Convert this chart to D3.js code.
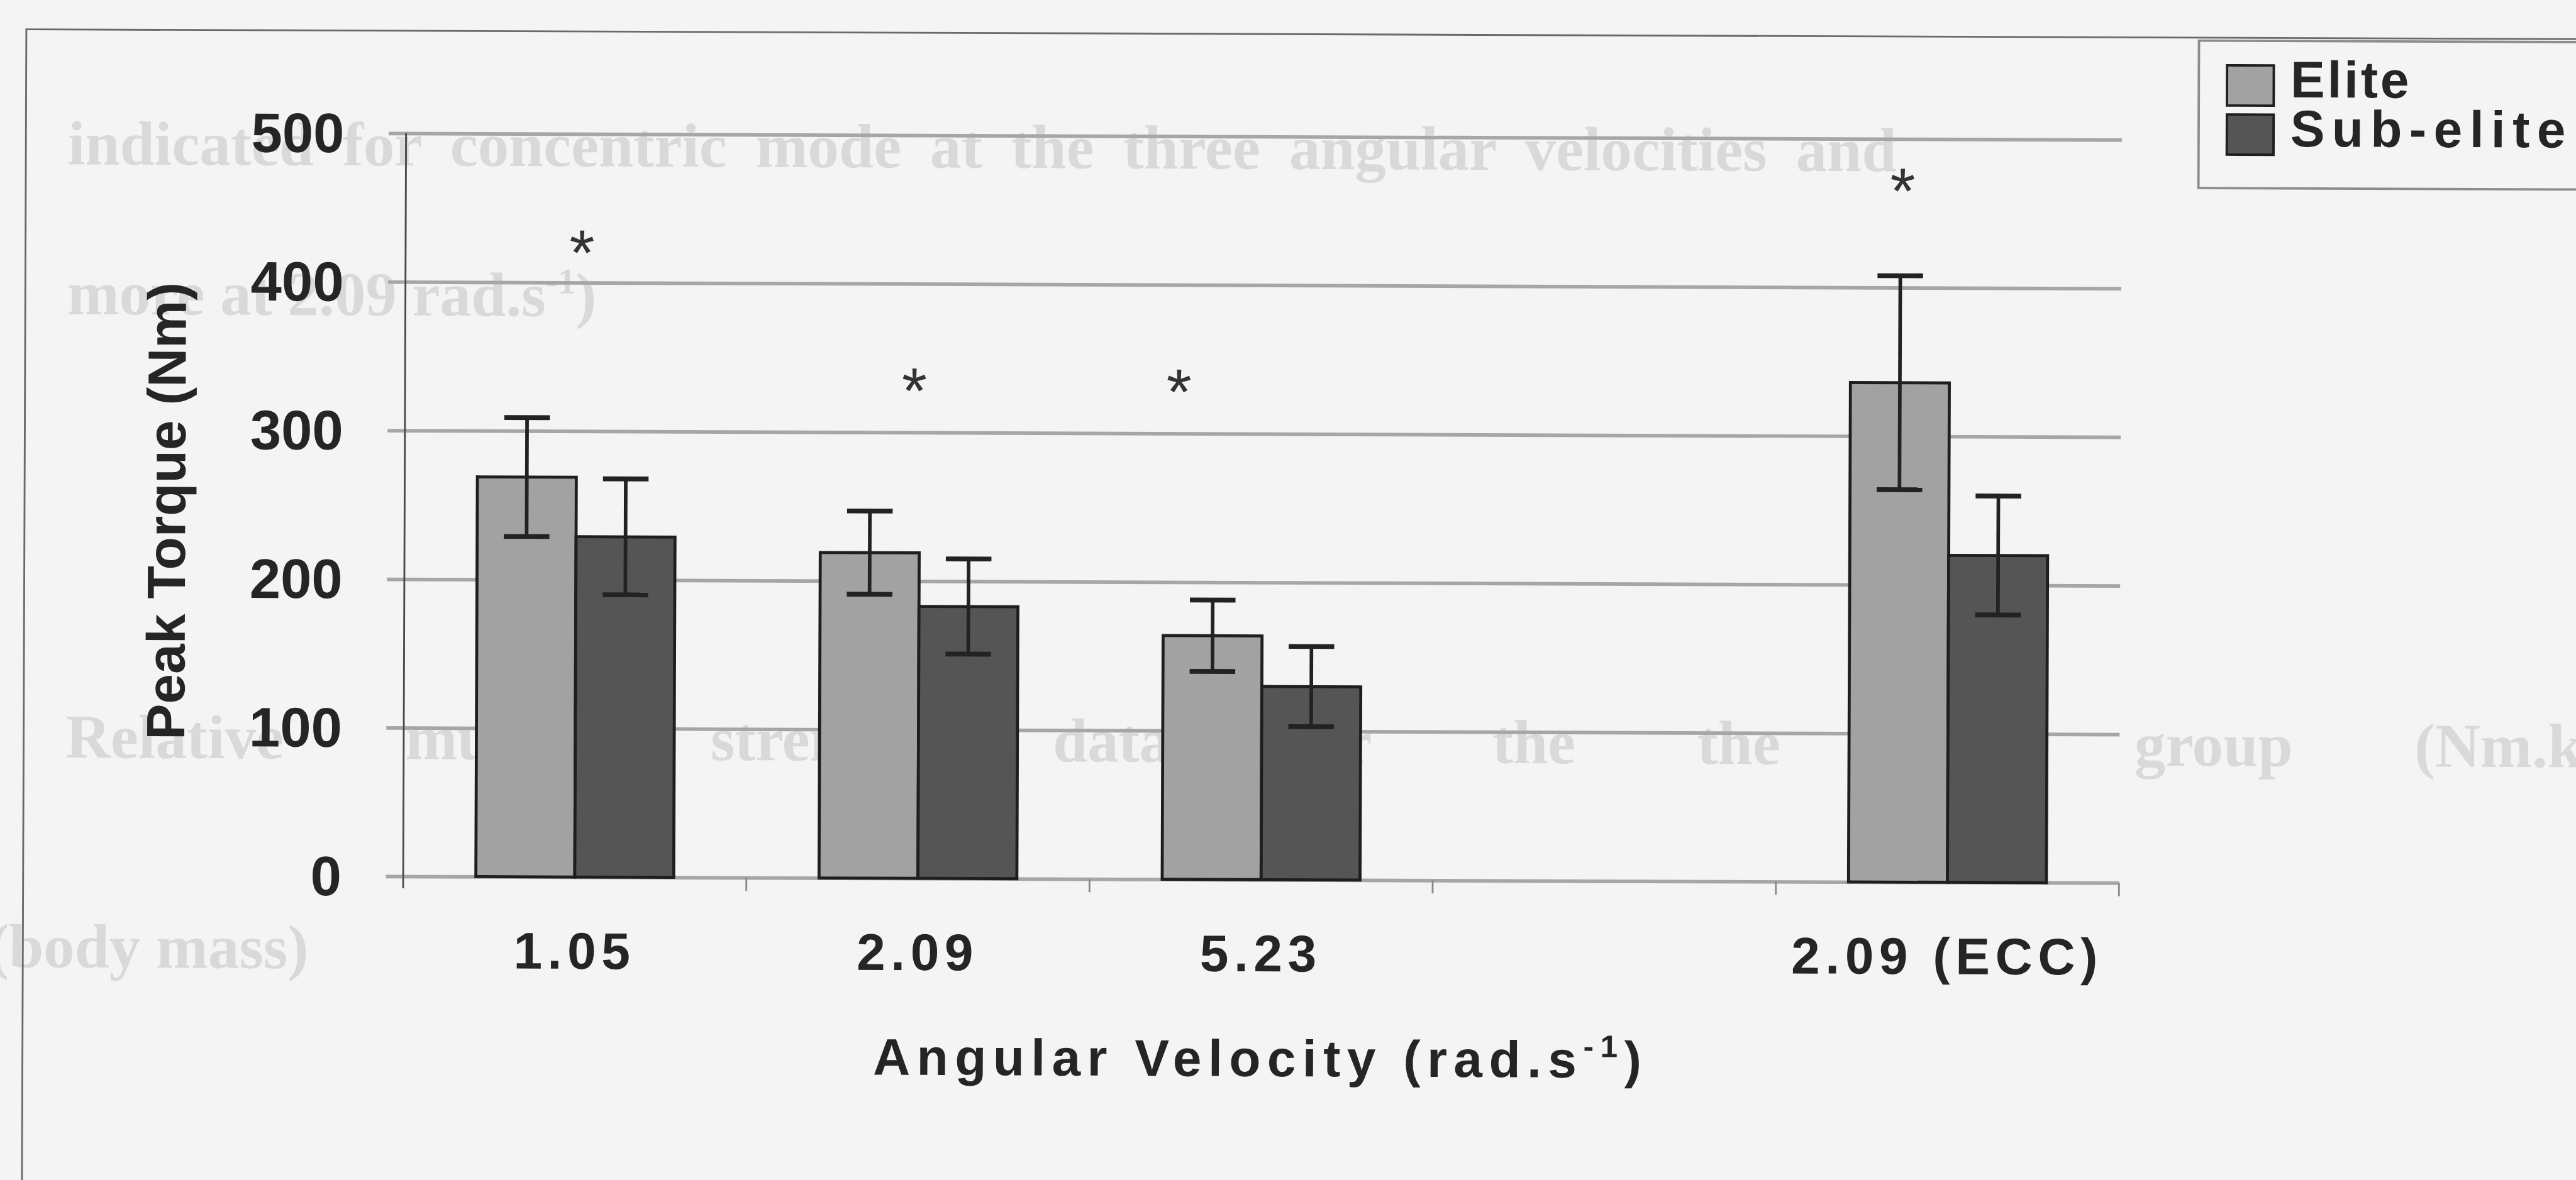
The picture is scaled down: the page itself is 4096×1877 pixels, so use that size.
<!DOCTYPE html>
<html>
<head>
<meta charset="utf-8">
<script src="https://cdn.jsdelivr.net/npm/d3@7"></script>
<style>
  html, body { margin: 0; padding: 0; background: #f4f4f4; overflow: hidden; }
  svg { display: block; }
</style>
</head>
<body>
<div id="chart"></div>
<script>
window.addEventListener("DOMContentLoaded", function() {
    // Data
    const categories = ["1.05", "2.09", "5.23", "", "2.09 (ECC)"];
    const series = ["Elite", "Sub-elite"];
    const eliteMean = [269, 219, 164, null, 336];
    const eliteSD = [40, 28, 24, null, 72];
    const subEliteMean = [229, 183, 130, null, 220];
    const subEliteSD = [39, 32, 27, null, 40];
    const starValues = [430, 338, 338, null, 475];
    const yTicks = [0, 100, 200, 300, 400, 500];

    // Reference size, drawn at 0.953 through the viewBox
    const W = 4296, H = 1969;
    const left = 674, right = 3536, top = 228, bottom = 1468;
    const colors = { "Elite": "#a2a2a2", "Sub-elite": "#555555" };
    const ink = "#252525";
    const font = "'Liberation Sans', Arial, sans-serif";
    const starDx = [8, -9, -140, 0, -79];

    const svg = d3.select('#chart')
        .append('svg')
        .attr('width', 4096)
        .attr('height', 1877)
        .attr('viewBox', `0 0 ${W} ${H}`);

    svg.append('rect').attr('width', W).attr('height', H).attr('fill', '#f4f4f4');

    // slight skew of the scanned page
    const root = svg.append('g').attr('transform', 'rotate(0.22, 2148, 985)');

    // faint text showing through from the other side of the page
    const ghost = root.append('g')
        .attr('fill', '#d9d9d9')
        .style('font-family', "'Liberation Serif', 'Times New Roman', serif")
        .style('font-weight', 'bold')
        .style('font-size', '104px');

    // justify a line by widening its word gaps
    function justify(sel, target) {
        const n = sel.text().split(' ').length - 1;
        const w = sel.node().getComputedTextLength();
        sel.style('word-spacing', ((target - w) / n) + 'px');
    }

    ghost.append('text').attr('x', 110).attr('y', 282)
        .text('indicated for concentric mode at the three angular velocities and')
        .call(justify, 3050);
    const g2 = ghost.append('text').attr('x', 110).attr('y', 532);
    g2.append('tspan').text('more at 2.09 rad.s');
    g2.append('tspan').attr('dy', -38).style('font-size', '60px').text('-1');
    g2.append('tspan').attr('dy', 38).text(')');
    ghost.append('text').attr('x', 110).attr('y', 1272)
        .text('Relative muscle strength data for the the elite group (Nm.kg')
        .call(justify, 4250);
    ghost.append('text').attr('x', -18).attr('y', 1622)
        .text('(body mass)');

    // outer chart frame (runs off the right and bottom of the scan)
    root.append('rect')
        .attr('x', 40).attr('y', 57)
        .attr('width', 5000).attr('height', 5000)
        .attr('fill', 'none')
        .attr('stroke', '#6a6a6a')
        .attr('stroke-width', 3);

    // Scales
    const x0 = d3.scaleBand()
        .domain(categories)
        .range([left, right])
        .paddingInner(0)
        .paddingOuter(0);

    const x1 = d3.scaleBand()
        .domain(series)
        .range([0, x0.step()])
        .paddingInner(0)
        .paddingOuter(0.7345);

    const y = d3.scaleLinear()
        .domain([0, 500])
        .range([bottom, top]);

    // Y axis with gridlines
    const yAxis = root.append('g')
        .attr('transform', `translate(${left},0)`)
        .call(d3.axisLeft(y).tickValues(yTicks).tickSize(-(right - left)).tickPadding(103));
    yAxis.select('.domain').remove();
    yAxis.selectAll('.tick line')
        .attr('x1', -29)
        .attr('stroke', '#a6a6a6')
        .attr('stroke-width', 6);
    yAxis.selectAll('.tick text')
        .attr('fill', ink)
        .attr('dy', '0.34em')
        .style('font-family', font)
        .style('font-weight', 'bold')
        .style('font-size', '93px');

    // y axis line
    root.append('line')
        .attr('x1', left).attr('x2', left)
        .attr('y1', y(500)).attr('y2', bottom + 20)
        .attr('stroke', '#4a4a4a')
        .attr('stroke-width', 3);

    // category boundary ticks
    root.append('g')
        .selectAll('line')
        .data(d3.range(1, categories.length + 1))
        .enter()
        .append('line')
        .attr('x1', i => left + i * x0.step())
        .attr('x2', i => left + i * x0.step())
        .attr('y1', bottom)
        .attr('y2', bottom + 22)
        .attr('stroke', '#8a8a8a')
        .attr('stroke-width', 3);

    // category labels
    const xAxis = root.append('g')
        .attr('transform', `translate(0,${bottom})`)
        .call(d3.axisBottom(x0).tickSize(0).tickPadding(92));
    xAxis.select('.domain').remove();
    xAxis.selectAll('.tick text')
        .attr('fill', ink)
        .style('font-family', font)
        .style('font-weight', 'bold')
        .style('font-size', '86px')
        .style('letter-spacing', '9px');

    // Bars
    const rows = categories.map((c, i) => ({
        cat: c,
        values: [
            { key: 'Elite', mean: eliteMean[i], sd: eliteSD[i] },
            { key: 'Sub-elite', mean: subEliteMean[i], sd: subEliteSD[i] }
        ].filter(d => d.mean != null)
    }));

    const groups = root.append('g')
        .selectAll('g')
        .data(rows)
        .enter()
        .append('g')
        .attr('transform', d => `translate(${x0(d.cat)},0)`);

    groups.selectAll('rect')
        .data(d => d.values)
        .enter()
        .append('rect')
        .attr('x', d => x1(d.key))
        .attr('y', d => y(d.mean))
        .attr('width', x1.bandwidth())
        .attr('height', d => bottom - y(d.mean))
        .attr('fill', d => colors[d.key])
        .attr('stroke', '#1e1e1e')
        .attr('stroke-width', 5);

    // Error bars
    const capW = 76;
    const err = groups.selectAll('g.err')
        .data(d => d.values)
        .enter()
        .append('g')
        .attr('class', 'err')
        .attr('stroke', '#222');
    err.append('line')
        .attr('x1', d => x1(d.key) + x1.bandwidth() / 2)
        .attr('x2', d => x1(d.key) + x1.bandwidth() / 2)
        .attr('y1', d => y(d.mean + d.sd))
        .attr('y2', d => y(d.mean - d.sd))
        .attr('stroke-width', 6);
    ['+', '-'].forEach(s => {
        err.append('line')
            .attr('x1', d => x1(d.key) + x1.bandwidth() / 2 - capW / 2)
            .attr('x2', d => x1(d.key) + x1.bandwidth() / 2 + capW / 2)
            .attr('y1', d => y(s === '+' ? d.mean + d.sd : d.mean - d.sd))
            .attr('y2', d => y(s === '+' ? d.mean + d.sd : d.mean - d.sd))
            .attr('stroke-width', 8);
    });

    // Significance stars
    root.append('g')
        .selectAll('text')
        .data(categories.map((c, i) => ({ cat: c, v: starValues[i], dx: starDx[i] })).filter(d => d.v != null))
        .enter()
        .append('text')
        .attr('x', d => x0(d.cat) + x0.bandwidth() / 2 + d.dx)
        .attr('y', d => y(d.v) + 62)
        .attr('text-anchor', 'middle')
        .attr('fill', '#333')
        .style('font-family', font)
        .style('font-size', '108px')
        .text('*');

    // Axis titles
    root.append('text')
        .attr('transform', 'translate(308,860) rotate(-90)')
        .attr('text-anchor', 'middle')
        .attr('fill', ink)
        .style('font-family', font)
        .style('font-weight', 'bold')
        .style('font-size', '90px')
        .text('Peak Torque (Nm)');

    const xt = root.append('text')
        .attr('x', (left + right) / 2)
        .attr('y', 1796)
        .attr('text-anchor', 'middle')
        .attr('fill', ink)
        .style('font-family', font)
        .style('font-weight', 'bold')
        .style('font-size', '86px')
        .style('letter-spacing', '11px');
    xt.append('tspan').text('Angular Velocity (rad.s');
    xt.append('tspan').attr('dy', -34).style('font-size', '52px').text('-1');
    xt.append('tspan').attr('dy', 34).text(')');

    // Legend
    const legend = root.append('g');
    legend.append('rect')
        .attr('x', 3664).attr('y', 62)
        .attr('width', 800).attr('height', 246)
        .attr('fill', 'none')
        .attr('stroke', '#8c8c8c')
        .attr('stroke-width', 4);
    const item = legend.selectAll('g.item')
        .data(series)
        .enter()
        .append('g')
        .attr('class', 'item')
        .attr('transform', (d, i) => `translate(3711,${103 + i * 82})`);
    item.append('rect')
        .attr('width', 78).attr('height', 67)
        .attr('fill', d => colors[d])
        .attr('stroke', '#1e1e1e')
        .attr('stroke-width', 4);
    item.append('text')
        .attr('x', 106)
        .attr('y', 53)
        .attr('fill', ink)
        .style('font-family', font)
        .style('font-weight', 'bold')
        .style('font-size', '86px')
        .style('letter-spacing', (d, i) => i === 0 ? '4px' : '12px')
        .text(d => d);
});
</script>
</body>
</html>
